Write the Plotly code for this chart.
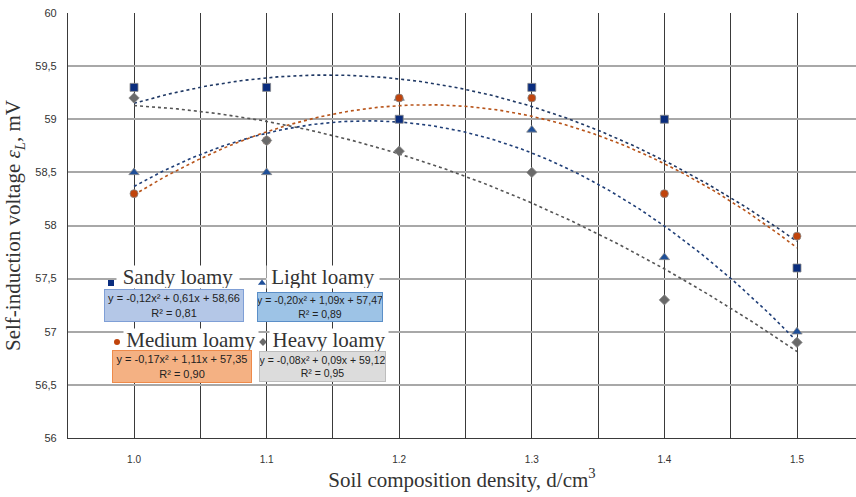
import numpy as np
import plotly.graph_objects as go

# ---- data ----
density_labels = ["1.0", "1.1", "1.2", "1.3", "1.4", "1.5"]
x_index = [1, 2, 3, 4, 5, 6]
sandy = [59.3, 59.3, 59.0, 59.3, 59.0, 57.6]
light = [58.5, 58.5, 59.2, 58.9, 57.7, 57.0]
medium = [58.3, 58.8, 59.2, 59.2, 58.3, 57.9]
heavy = [59.2, 58.8, 58.7, 58.5, 57.3, 56.9]
y_tickvals = [56, 56.5, 57, 57.5, 58, 58.5, 59, 59.5, 60]
y_ticktext = ["56", "56,5", "57", "57,5", "58", "58,5", "59", "59,5", "60"]

series = [
    ("Sandy loamy", sandy, "square", "#0a2d7e", "#1f3864", 8),
    ("Light loamy", light, "triangle-up", "#1f4f98", "#203f78", 9),
    ("Medium loamy", medium, "circle", "#c0440c", "#b8541a", 8),
    ("Heavy loamy", heavy, "diamond", "#6a6a6a", "#555555", 8),
]

W, H = 856, 497
L, R, T, B = 68, 0, 13, 59
PW = W - L - R
PH = H - T - B

def px(x):
    return (x - L) / PW

def py(y):
    return 1 - (y - T) / PH

fig = go.Figure()

# trendlines (2nd-order polynomial fit, like Excel)
xs = np.linspace(1, 6, 200)
for name, vals, sym, mcol, lcol, msz in series:
    coef = np.polyfit(x_index, vals, 2)
    fig.add_trace(go.Scatter(x=xs, y=np.polyval(coef, xs), mode="lines",
                             line=dict(color=lcol, width=1.6, dash="dot"),
                             hoverinfo="skip", showlegend=False))

for name, vals, sym, mcol, lcol, msz in series:
    fig.add_trace(go.Scatter(x=x_index, y=vals, mode="markers", name=name,
                             marker=dict(symbol=sym, size=msz, color=mcol,
                                         line=dict(color="#8a8a8a", width=0.8)),
                             showlegend=False))

fig.update_layout(
    width=W, height=H,
    margin=dict(l=L, r=R, t=T, b=B),
    paper_bgcolor="white", plot_bgcolor="white",
    xaxis=dict(
        range=[0.502, 6.445],
        tickmode="array", tickvals=x_index, ticktext=density_labels,
        showgrid=True, gridcolor="#3a3a3a", gridwidth=1,
        minor=dict(tickmode="array", tickvals=[0.5, 1.5, 2.5, 3.5, 4.5, 5.5, 6.5],
                   showgrid=True, gridcolor="#3a3a3a", gridwidth=1),
        showline=True, linecolor="#3a3a3a", linewidth=1.2,
        ticks="outside", ticklen=12, tickcolor="rgba(0,0,0,0)",
        tickfont=dict(family="Liberation Sans Narrow, Liberation Sans", size=10, color="#333333"),
        zeroline=False,
        title=dict(text="Soil composition density, d/cm<sup>3</sup>",
                   font=dict(family="Liberation Serif", size=21, color="#333333"),
                   standoff=5),
    ),
    yaxis=dict(
        range=[56, 60],
        tickmode="array", tickvals=y_tickvals, ticktext=y_ticktext,
        showgrid=True, gridcolor="#a8a8a8", gridwidth=1.6,
        showline=True, linecolor="#3a3a3a", linewidth=1.2,
        ticks="outside", ticklen=8, tickcolor="rgba(0,0,0,0)",
        tickfont=dict(family="Liberation Sans", size=11, color="#333333"),
        zeroline=False,
        title=dict(text="Self-induction voltage <i>ε<sub>L</sub></i>, mV",
                   font=dict(family="Liberation Serif", size=21, color="#333333"),
                   standoff=8),
    ),
)

# ---- custom legend with trendline equations ----
headers = [
    ("Sandy loamy", 178, 277, 122),
    ("Light loamy", 323, 277, 112),
    ("Medium loamy", 191, 340, 134),
    ("Heavy loamy", 329, 340, 118),
]
for text, cx, cy, w in headers:
    fig.add_annotation(x=px(cx), y=py(cy), xref="paper", yref="paper",
                       xanchor="center", yanchor="middle",
                       text=text, showarrow=False, bgcolor="white",
                       width=w, height=22, borderpad=0,
                       font=dict(family="Liberation Serif", size=21, color="#333333"))

boxes = [
    ("y = -0,12x² + 0,61x + 58,66<br>R² = 0,81", 104, 289, 140, 33, "#b4c7e7", "#7f9fd6", 11),
    ("y = -0,20x² + 1,09x + 57,47<br>R² = 0,89", 257, 292, 126, 30, "#9dc3e6", "#5b8fc8", 10.5),
    ("y = -0,17x² + 1,11x + 57,35<br>R² = 0,90", 112, 350, 140, 33, "#f4b183", "#ee8a4a", 11),
    ("y = -0,08x² + 0,09x + 59,12<br>R² = 0,95", 259, 351, 127, 31, "#dcdcdc", "#bdbdbd", 10.5),
]
for text, x0, y0, w, h, fill, border, fs in boxes:
    fig.add_annotation(x=px(x0 + w / 2), y=py(y0 + h / 2), xref="paper", yref="paper",
                       xanchor="center", yanchor="middle",
                       text=text, showarrow=False, bgcolor=fill, bordercolor=border,
                       borderwidth=1, width=w - 2, height=h - 2, borderpad=0,
                       font=dict(family="Liberation Sans", size=fs, color="#222222"))

legend_markers = [(111, 283, 0), (262, 283, 1), (117, 342, 2), (263, 342, 3)]
for mx, my, i in legend_markers:
    name, vals, sym, mcol, lcol, msz = series[i]
    fig.add_trace(go.Scatter(x=[px(mx)], y=[py(my)], xaxis="x2", yaxis="y2",
                             mode="markers", showlegend=False, hoverinfo="skip",
                             marker=dict(symbol=sym, size=msz - 2, color=mcol)))

fig.update_layout(
    xaxis2=dict(range=[0, 1], overlaying="x", visible=False, anchor="y2"),
    yaxis2=dict(range=[0, 1], overlaying="y", visible=False, anchor="x2"),
)

fig.write_html("out.html")
